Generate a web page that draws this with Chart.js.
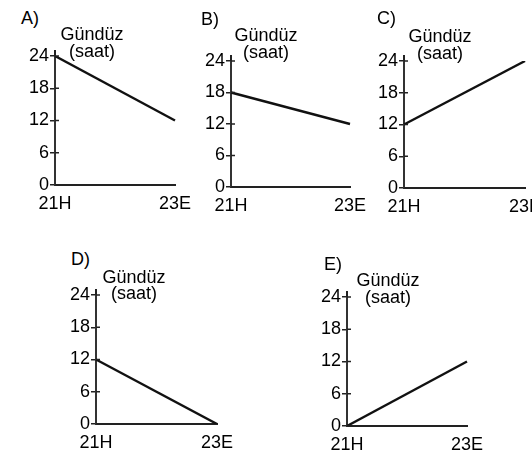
<!DOCTYPE html>
<html><head><meta charset="utf-8">
<script src="https://cdn.jsdelivr.net/npm/chart.js@4/dist/chart.umd.min.js"></script>
<style>
html,body{margin:0;padding:0;background:#fff;width:532px;height:456px;overflow:hidden;position:relative;font-family:"Liberation Sans",Arial,sans-serif;color:#000;}
.t{position:absolute;font-size:18px;line-height:18px;white-space:nowrap;}
.ttl{position:absolute;font-size:18px;line-height:17px;white-space:nowrap;transform:translateX(-50%);text-align:center;}
</style></head><body>
<script>
// ---- data ----
const categories = ['21H', '23E'];
const yTickValues = [0, 6, 12, 18, 24];
const panelLetters = ['A)', 'B)', 'C)', 'D)', 'E)'];
const axisTitleLines = ['Gündüz', '(saat)'];
const seriesA = [24, 12];
const seriesB = [18, 12];
const seriesC = [12, 24];
const seriesD = [12, 0];
const seriesE = [0, 12];
const allSeries = [seriesA, seriesB, seriesC, seriesD, seriesE];

// ---- layout (pixels) ----
const panels = [
  {axisX:55,  top:56,  bottom:185, right:175, lx:21,  ly:9,   tc:92,  t1:26, t2:43},
  {axisX:231, top:61,  bottom:187, right:350, lx:201, ly:10,  tc:266, t1:27, t2:44},
  {axisX:404, top:61,  bottom:188, right:525, lx:377, ly:9,   tc:440, t1:28, t2:45},
  {axisX:96,  top:295, bottom:424, right:217, lx:71,  ly:250, tc:134, t1:269, t2:285},
  {axisX:347, top:297, bottom:426, right:467, lx:324, ly:255, tc:388, t1:272, t2:289}
];

const FONT = {family:'"Liberation Sans", Arial, sans-serif', size:18};

const crossTicks = {
  id:'crossTicks',
  afterDraw(chart){
    const ctx = chart.ctx, y = chart.scales.y, a = chart.chartArea;
    ctx.save();
    ctx.strokeStyle = '#222';
    ctx.lineWidth = 1.5;
    y.ticks.forEach(t => {
      const py = y.getPixelForValue(t.value);
      ctx.beginPath(); ctx.moveTo(a.left, py); ctx.lineTo(a.left + 4, py); ctx.stroke();
    });
    ctx.lineWidth = 2;
    ctx.beginPath(); ctx.moveTo(a.left, a.top); ctx.lineTo(a.left, a.top - 6); ctx.stroke();
    ctx.restore();
  }
};

function makePanel(p, values, letter) {
  const YW = 50, PT = 14, XH = 30, PR = 26;
  const cv = document.createElement('canvas');
  const w = (p.right - p.axisX) + YW + PR;
  const h = (p.bottom - p.top) + PT + XH;
  cv.width = w; cv.height = h;
  cv.style.cssText = `position:absolute;left:${p.axisX - YW}px;top:${p.top - PT}px;width:${w}px;height:${h}px`;
  document.body.appendChild(cv);

  const l = document.createElement('div');
  l.className = 't'; l.textContent = letter;
  l.style.left = p.lx + 'px'; l.style.top = p.ly + 'px';
  document.body.appendChild(l);
  [p.t1, p.t2].forEach((ty, i) => {
    const d = document.createElement('div');
    d.className = 'ttl'; d.textContent = axisTitleLines[i];
    d.style.left = p.tc + 'px'; d.style.top = ty + 'px';
    document.body.appendChild(d);
  });

  new Chart(cv, {
    type: 'line',
    data: {labels: categories, datasets: [{data: values, borderColor:'#111', borderWidth:2.4, pointRadius:0, tension:0, fill:false}]},
    options: {
      responsive:false, animation:false, devicePixelRatio:1,
      layout:{padding:{top:PT, right:PR, bottom:0, left:0}},
      plugins:{legend:{display:false}, tooltip:{enabled:false}},
      scales:{
        x:{type:'category', offset:false,
           grid:{display:false, drawTicks:false},
           border:{display:true, color:'#222', width:2},
           ticks:{padding:8, color:'#000', font:FONT, maxRotation:0, autoSkip:false},
           afterFit(s){ s.height = XH; }},
        y:{min:0, max:24,
           afterBuildTicks(s){ s.ticks = yTickValues.map(v => ({value:v})); },
           grid:{drawOnChartArea:false, drawTicks:true, tickLength:5, color:'#222', lineWidth:1.5},
           border:{display:true, color:'#333', width:2},
           ticks:{padding:1, color:'#000', font:FONT},
           afterFit(s){ s.width = YW; }}
      }
    },
    plugins:[crossTicks]
  });
}

panels.forEach((p, i) => makePanel(p, allSeries[i], panelLetters[i]));
</script>
</body></html>
